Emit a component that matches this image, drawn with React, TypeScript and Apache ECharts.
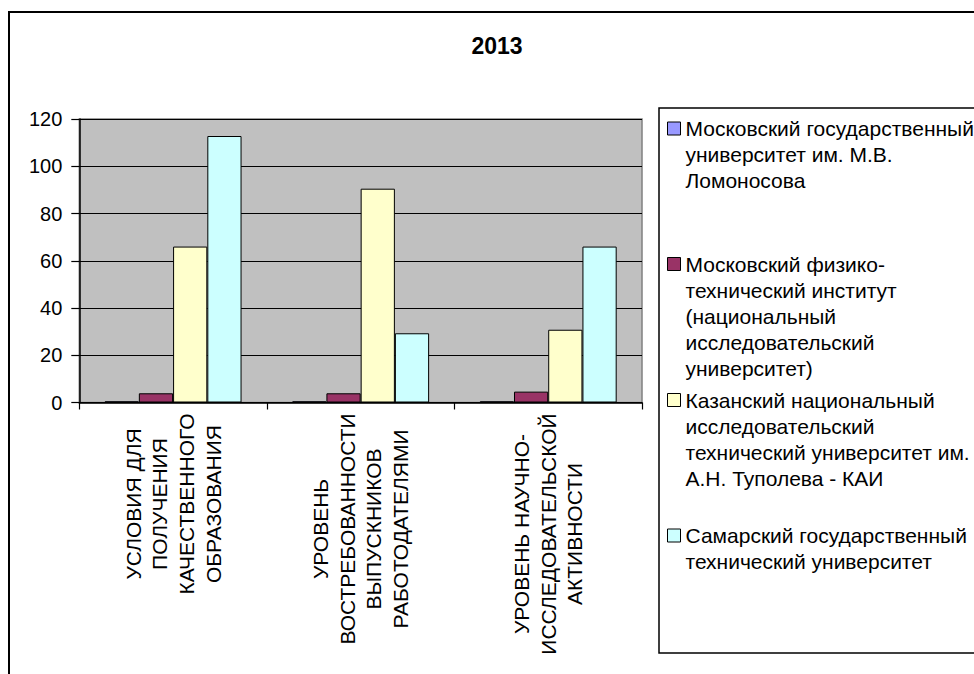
import React, { useEffect, useRef } from 'react';
import * as echarts from 'echarts';

const chartTitle = '2013';

const categories = [
  'УСЛОВИЯ ДЛЯ\nПОЛУЧЕНИЯ\nКАЧЕСТВЕННОГО\nОБРАЗОВАНИЯ',
  'УРОВЕНЬ\nВОСТРЕБОВАННОСТИ\nВЫПУСКНИКОВ\nРАБОТОДАТЕЛЯМИ',
  'УРОВЕНЬ НАУЧНО-\nИССЛЕДОВАТЕЛЬСКОЙ\nАКТИВНОСТИ',
];

const seriesNames = [
  'Московский государственный университет им. М.В. Ломоносова',
  'Московский физико-технический институт (национальный исследовательский университет)',
  'Казанский национальный исследовательский технический университет им. А.Н. Туполева - КАИ',
  'Самарский государственный технический университет',
];

const legendLabels = [
  'Московский государственный\nуниверситет им. М.В.\nЛомоносова',
  'Московский физико-\nтехнический институт\n(национальный\nисследовательский\nуниверситет)',
  'Казанский национальный\nисследовательский\nтехнический университет им.\nА.Н. Туполева - КАИ',
  'Самарский государственный\nтехнический университет',
];

const mguValues = [0.5, 0.5, 0.5];
const mftiValues = [3.9, 3.9, 4.6];
const kaiValues = [66, 90.5, 30.8];
const samaraValues = [112.8, 29.3, 66];

const seriesValues = [mguValues, mftiValues, kaiValues, samaraValues];
const seriesColors = ['#9999FF', '#993366', '#FFFFCC', '#CCFFFF'];

const yMin = 0;
const yMax = 120;
const yStep = 20;

const FONT = '"Liberation Sans", Arial, Helvetica, sans-serif';
const X_FONT_SIZE = 21;
const X_LINE = 26.7;
const LEG_FONT_SIZE = 21;
const LEG_LINE = 26;
const LEG_SQ = 13;

function measure(text: string, size: number): number {
  const ctx = document.createElement('canvas').getContext('2d');
  if (!ctx) return text.length * size * 0.6;
  ctx.font = `${size}px "Liberation Sans", Arial`;
  return ctx.measureText(text).width;
}

export default function App() {
  const ref = useRef<HTMLDivElement>(null);

  useEffect(() => {
    if (!ref.current) return;
    const chart = echarts.init(ref.current, undefined, { renderer: 'svg' });

    const rich: Record<string, any> = {};
    categories.forEach((c, i) => {
      const w = Math.max(...c.split('\n').map((l) => measure(l, X_FONT_SIZE)));
      rich['c' + i] = {
        width: Math.ceil(w) + 1,
        align: 'center',
        fontSize: X_FONT_SIZE,
        lineHeight: X_LINE,
        fontFamily: FONT,
        color: '#000',
      };
    });

    const legendCenters = [128, 263.5, 399.5, 535];
    const legends = seriesNames.map((name, i) => {
      const n = legendLabels[i].split('\n').length;
      const H = n * LEG_LINE;
      const a = (LEG_LINE - LEG_SQ) / 2;
      const icon =
        `path://M0,0L0,0` +
        `M0,${a}L${LEG_SQ},${a}L${LEG_SQ},${a + LEG_SQ}L0,${a + LEG_SQ}Z` +
        `M0,${H}L0,${H}`;
      return {
        data: [name],
        orient: 'vertical',
        left: 667,
        top: legendCenters[i] - LEG_LINE / 2,
        padding: 0,
        itemWidth: LEG_SQ,
        itemHeight: H,
        icon,
        selectedMode: false,
        formatter: () => legendLabels[i],
        itemStyle: { borderColor: '#000', borderWidth: 1 },
        textStyle: {
          fontFamily: FONT,
          fontSize: LEG_FONT_SIZE,
          lineHeight: LEG_LINE,
          color: '#000',
        },
      };
    });

    chart.setOption({
      animation: false,
      backgroundColor: '#fff',
      textStyle: { fontFamily: FONT },
      title: {
        text: chartTitle,
        left: 497,
        textAlign: 'center',
        top: 34,
        padding: 0,
        textStyle: { fontFamily: FONT, fontSize: 23, fontWeight: 'bold', color: '#000' },
      },
      legend: legends,
      grid: {
        left: 79.3,
        top: 119,
        width: 562.7,
        height: 283.5,
        show: true,
        backgroundColor: '#C0C0C0',
        borderColor: '#808080',
        borderWidth: 1.5,
        containLabel: false,
      },
      xAxis: {
        type: 'category',
        data: categories,
        axisLine: { lineStyle: { color: '#000', width: 1.5 } },
        axisTick: { show: true, length: 7, lineStyle: { color: '#000', width: 1.2 } },
        axisLabel: {
          interval: 0,
          rotate: 90,
          margin: 10,
          formatter: (value: string, index: number) =>
            value
              .split('\n')
              .map((l) => `{c${index}|${l}}`)
              .join('\n'),
          rich,
        },
        splitLine: { show: false },
      },
      yAxis: {
        type: 'value',
        min: yMin,
        max: yMax,
        interval: yStep,
        axisLine: { show: true, lineStyle: { color: '#000', width: 1.5 } },
        axisTick: { show: true, length: 8, lineStyle: { color: '#000', width: 1.2 } },
        axisLabel: {
          margin: 17,
          fontSize: 20,
          fontFamily: FONT,
          color: '#000',
        },
        splitLine: { show: true, lineStyle: { color: '#000', width: 1.2 } },
      },
      series: seriesNames.map((name, i) => ({
        type: 'bar',
        name,
        data: seriesValues[i],
        barGap: '0%',
        barCategoryGap: '27%',
        itemStyle: { color: seriesColors[i], borderColor: '#000', borderWidth: 1 },
      })),
      graphic: [
        {
          type: 'rect',
          z: -1,
          shape: { x: 9, y: 12, width: 1000, height: 1000 },
          style: { fill: 'none', stroke: '#000', lineWidth: 2 },
          silent: true,
        },
        {
          type: 'rect',
          z: -1,
          shape: { x: 659, y: 108, width: 400, height: 545 },
          style: { fill: 'none', stroke: '#000', lineWidth: 1.5 },
          silent: true,
        },
      ],
    });

    return () => chart.dispose();
  }, []);

  return (
    <div
      ref={ref}
      style={{ position: 'fixed', left: 0, top: 0, width: 974, height: 674 }}
    />
  );
}
